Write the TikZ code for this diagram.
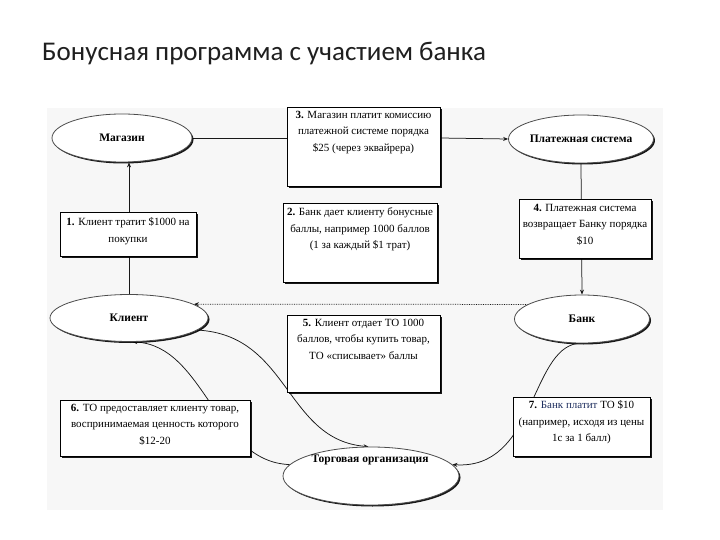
\documentclass[tikz,border=0pt]{standalone}
\usepackage{fontspec}
\setmainfont{Liberation Serif}
\newfontfamily\titlefont{Carlito}
\usetikzlibrary{shapes.geometric,shadows,arrows.meta}
\pgfdeclarelayer{back}
\pgfdeclarelayer{bg}
\pgfsetlayers{back,bg,main}
\tikzset{
  box/.style={draw=black, line width=0.7pt, fill=white, inner sep=0pt,
    drop shadow={shadow xshift=2pt, shadow yshift=-2pt, fill=black, opacity=0.9}},
  txt/.style={align=center, font=\fontsize{11}{16.5}\selectfont, inner sep=0pt, anchor=north},
  ell/.style={ellipse, draw=black!70, line width=0.8pt, fill=white, inner sep=0pt,
    font=\bfseries\fontsize{11.5}{13}\selectfont,
    drop shadow={shadow xshift=1.5pt, shadow yshift=-1.5pt, fill=black, opacity=0.9}},
  con/.style={draw=black!90, line width=0.75pt},
  arr/.style={con, -{Stealth[length=5pt,width=4pt]}},
}
\begin{document}
\begin{tikzpicture}[x=1pt,y=-1pt]
\useasboundingbox (0,0) rectangle (720,540);
\begin{pgfonlayer}{back}
\fill[white] (0,0) rectangle (720,540);
\fill[black!3] (47,108) rectangle (663,510);
\end{pgfonlayer}
\node[anchor=base west, inner sep=0pt, font=\titlefont\fontsize{27}{31}\selectfont, text=black!88] (title) at (42,61) {Бонусная программа с участием банка};

% ellipses
\node[ell, minimum width=140, minimum height=48] (mag) at (122,138) {Магазин};
\node[ell, minimum width=137, minimum height=48] (ps) at (581,139) {Платежная система};
\node[ell, minimum width=158, minimum height=47] (kl) at (129,318) {Клиент};
\node[ell, minimum width=135, minimum height=48] (bank) at (582,319) {Банк};
\node[ell, minimum width=176, minimum height=58] (to) at (371,476) {};
\node[inner sep=0pt, font=\bfseries\fontsize{11.5}{13}\selectfont] (tol) at (370,460) {Торговая организация};

% boxes
\node[box, minimum width=153, minimum height=79] (b3) at (363.5,146.5) {};
\node[txt] (t3) at ([yshift=-4pt]b3.north) {\textbf{3.} Магазин платит комиссию\\платежной системе порядка\\\$25 (через эквайрера)};
\node[box, minimum width=136, minimum height=44] (b1) at (128,234) {};
\node[txt] (t1) at ([yshift=-6pt]b1.north) {\textbf{1.} Клиент тратит \$1000 на\\покупки};
\node[box, minimum width=154, minimum height=79] (b2) at (360,242.5) {};
\node[txt] (t2) at ([yshift=-5pt]b2.north) {\textbf{2.} Банк дает клиенту бонусные\\баллы, например 1000 баллов\\(1 за каждый \$1 трат)};
\node[box, minimum width=132, minimum height=59] (b4) at (585,228.5) {};
\node[txt] (t4) at ([yshift=-5pt]b4.north) {\textbf{4.} Платежная система\\возвращает Банку порядка\\\$10};
\node[box, minimum width=153, minimum height=77] (b5) at (363.5,353.5) {};
\node[txt] (t5) at ([yshift=-4pt]b5.north) {\textbf{5.} Клиент отдает ТО 1000\\баллов, чтобы купить товар,\\ТО «списывает» баллы};
\node[box, minimum width=190, minimum height=56] (b6) at (155,428) {};
\node[txt] (t6) at ([yshift=-4pt]b6.north) {\textbf{6.} ТО предоставляет клиенту товар,\\воспринимаемая ценность которого\\\$12-20};
\node[box, minimum width=137, minimum height=59] (b7) at (581.5,426.5) {};
\node[txt] (t7) at ([yshift=-4pt]b7.north) {\textbf{7.} \textcolor[HTML]{1F2F5F}{Банк платит} ТО \$10\\(например, исходя из цены\\1с за 1 балл)};

% connectors
\begin{pgfonlayer}{bg}
\draw[con] (mag.east) -- (mag.east -| b3.west);
\draw[arr] (mag.east -| b3.east) -- (ps.west);
\draw[arr] (kl.north) -- (kl.north |- mag.south);
\draw[arr] (ps.south) -- (bank.north);
\draw[arr, densely dotted] (bank.165) -- (kl.12);
\draw[arr] (kl.-10) .. controls (290,335) and (285,440) .. (to.95);
\draw[arr] (to.172) .. controls (215,462) and (205,345) .. (kl.-82);
\draw[arr] (bank.-100) .. controls (530,350) and (535,470) .. (to.8);
\end{pgfonlayer}
\end{tikzpicture}
\end{document}
